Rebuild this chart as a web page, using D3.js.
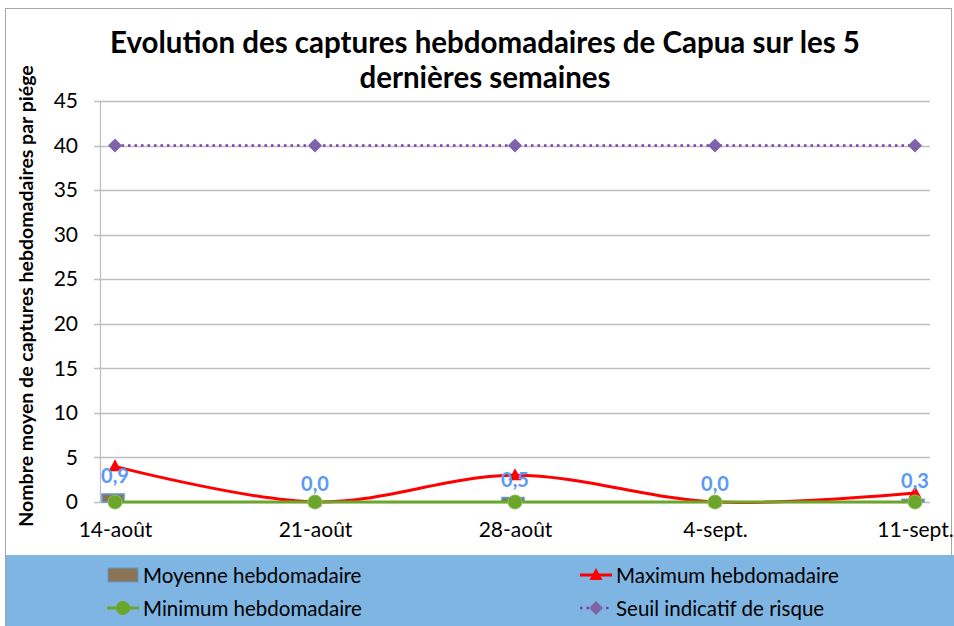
<!DOCTYPE html>
<html><head><meta charset="utf-8">
<script src="https://cdn.jsdelivr.net/npm/d3@7"></script>
<style>body{margin:0;background:#fff;} svg{display:block;}</style>
</head><body>
<svg id="c" width="954" height="626"></svg>
<script>
const categories = ["14-août", "21-août", "28-août", "4-sept.", "11-sept."];
const moyenne = [0.9, 0.0, 0.5, 0.0, 0.3];
const maximum = [4, 0, 3, 0, 1];
const minimum = [0, 0, 0, 0, 0];
const seuil = [40, 40, 40, 40, 40];
const yTicks = [0, 5, 10, 15, 20, 25, 30, 35, 40, 45];
const titleLines = ["Evolution des captures hebdomadaires de Capua sur les 5", "dernières semaines"];
const yTitle = "Nombre moyen de captures hebdomadaires par piége";
const legendNames = ["Moyenne hebdomadaire", "Maximum hebdomadaire", "Minimum hebdomadaire", "Seuil indicatif de risque"];

const FONT = "Lato, 'Open Sans', sans-serif";
const svg = d3.select("#c");
const plot = {left: 100, right: 930, top: 101, bottom: 502};

// chart border
svg.append("rect").attr("x", 5.5).attr("y", 8.5).attr("width", 946).attr("height", 620)
  .attr("fill", "#fff").attr("stroke", "#a6a6a6");

// legend background
svg.append("rect").attr("x", 6).attr("y", 555).attr("width", 948).attr("height", 71).attr("fill", "#7fb5e3");

const x = d3.scalePoint().domain(categories).range([115, 915]);
const y = d3.scaleLinear().domain([0, 45]).range([plot.bottom, plot.top]);

// gridlines
const grid = svg.append("g");
grid.selectAll("line").data(yTicks).join("line")
  .attr("x1", 94).attr("x2", plot.right)
  .attr("y1", d => Math.round(y(d)) + 0.5).attr("y2", d => Math.round(y(d)) + 0.5)
  .attr("stroke", "#bfbfbf").attr("stroke-width", 1.3);
svg.append("line").attr("x1", plot.left + 0.5).attr("x2", plot.left + 0.5)
  .attr("y1", plot.top).attr("y2", plot.bottom).attr("stroke", "#bfbfbf").attr("stroke-width", 1.3);

// y axis labels
const yAxis = d3.axisLeft(y).tickValues(yTicks).tickSize(0).tickPadding(0);
const ya = svg.append("g").attr("transform", `translate(${plot.left - 22},0)`).call(yAxis);
ya.select(".domain").remove();
ya.selectAll("text").attr("font-family", FONT).attr("font-size", 21).attr("fill", "#000");

// x axis labels
const xAxis = d3.axisBottom(x).tickSize(0).tickPadding(0);
const xa = svg.append("g").attr("transform", `translate(0,${plot.bottom + 20})`).call(xAxis);
xa.select(".domain").remove();
xa.selectAll("text").attr("font-family", FONT).attr("font-size", 21).attr("fill", "#000");

// bars (moyenne)
const bw = 22;
svg.append("g").selectAll("rect").data(moyenne).join("rect")
  .attr("x", (d, i) => x(categories[i]) - 2 - bw / 2)
  .attr("y", d => y(d))
  .attr("width", bw).attr("height", d => y(0) - y(d))
  .attr("fill", "#8b7355").attr("stroke", "#5b9bd5").attr("stroke-width", 1.5);

// max line (smoothed)
const line = d3.line().x((d, i) => x(categories[i])).y(d => y(d));
svg.append("path").datum(maximum)
  .attr("d", line.curve(d3.curveCardinal.tension(0)))
  .attr("fill", "none").attr("stroke", "#ff0000").attr("stroke-width", 3);
svg.append("g").selectAll("path").data(maximum).join("path")
  .attr("transform", (d, i) => `translate(${x(categories[i])},${y(d)})`)
  .attr("d", "M0,-7 L6.5,5 L-6.5,5 Z").attr("fill", "#ff0000");

// min line
svg.append("path").datum(minimum)
  .attr("d", d3.line().x((d, i) => x(categories[i])).y(d => y(d))(minimum))
  .attr("fill", "none").attr("stroke", "#6aa62a").attr("stroke-width", 3);
svg.append("g").selectAll("circle").data(minimum).join("circle")
  .attr("cx", (d, i) => x(categories[i])).attr("cy", d => y(d)).attr("r", 7)
  .attr("fill", "#6ba52b").attr("stroke", "#8cc152").attr("stroke-width", 1);

// seuil line
svg.append("path").datum(seuil)
  .attr("d", d3.line().x((d, i) => x(categories[i])).y(d => y(d))(seuil))
  .attr("fill", "none").attr("stroke", "#7a3fb0").attr("stroke-width", 2.5)
  .attr("stroke-dasharray", "2.5,4");
svg.append("g").selectAll("path").data(seuil).join("path")
  .attr("transform", (d, i) => `translate(${x(categories[i])},${y(d)})`)
  .attr("d", "M0,-7 L7,0 L0,7 L-7,0 Z").attr("fill", "#7f63a8");

// data labels
svg.append("g").selectAll("text").data(moyenne).join("text")
  .attr("x", (d, i) => x(categories[i]))
  .attr("y", d => y(d) - 11)
  .attr("text-anchor", "middle")
  .attr("font-family", FONT).attr("font-weight", "bold").attr("font-size", 20)
  .attr("fill", "#5b9af5")
  .text(d => d3.format(".1f")(d).replace(".", ","));

// title
svg.append("g").selectAll("text").data(titleLines).join("text")
  .attr("x", 485).attr("y", (d, i) => 53 + i * 35)
  .attr("text-anchor", "middle")
  .attr("font-family", FONT).attr("font-weight", "bold").attr("font-size", 29.5)
  .attr("fill", "#000").text(d => d);

// y title
svg.append("text")
  .attr("transform", "translate(33,296) rotate(-90)")
  .attr("text-anchor", "middle")
  .attr("font-family", FONT).attr("font-weight", "bold").attr("font-size", 19.5)
  .attr("fill", "#000").text(yTitle);

// legend
const legendItems = [
  {name: legendNames[0], x: 107, y: 575, type: "bar"},
  {name: legendNames[1], x: 580, y: 575, type: "max"},
  {name: legendNames[2], x: 107, y: 608, type: "min"},
  {name: legendNames[3], x: 580, y: 608, type: "seuil"}
];
const lg = svg.append("g");
legendItems.forEach(it => {
  const g = lg.append("g").attr("transform", `translate(${it.x},${it.y})`);
  if (it.type === "bar") {
    g.append("rect").attr("x", 1).attr("y", -7).attr("width", 30).attr("height", 14)
      .attr("fill", "#8b7355").attr("stroke", "#5b9bd5").attr("stroke-width", 1);
  } else if (it.type === "max") {
    g.append("line").attr("x1", 0).attr("x2", 32).attr("stroke", "#ff0000").attr("stroke-width", 3);
    g.append("path").attr("transform", "translate(16,0)").attr("d", "M0,-7 L6.5,5 L-6.5,5 Z").attr("fill", "#ff0000");
  } else if (it.type === "min") {
    g.append("line").attr("x1", 0).attr("x2", 32).attr("stroke", "#6aa62a").attr("stroke-width", 3);
    g.append("circle").attr("cx", 16).attr("r", 7).attr("fill", "#6ba52b");
  } else {
    g.append("line").attr("x1", 0).attr("x2", 32).attr("stroke", "#7a3fb0").attr("stroke-width", 2.5).attr("stroke-dasharray", "2.5,4");
    g.append("path").attr("transform", "translate(16,0)").attr("d", "M0,-7 L7,0 L0,7 L-7,0 Z").attr("fill", "#7f63a8");
  }
  g.append("text").attr("x", 36).attr("y", 7.5).attr("font-family", FONT).attr("font-size", 20.5)
    .attr("fill", "#000").text(it.name);
});
</script>
</body></html>
